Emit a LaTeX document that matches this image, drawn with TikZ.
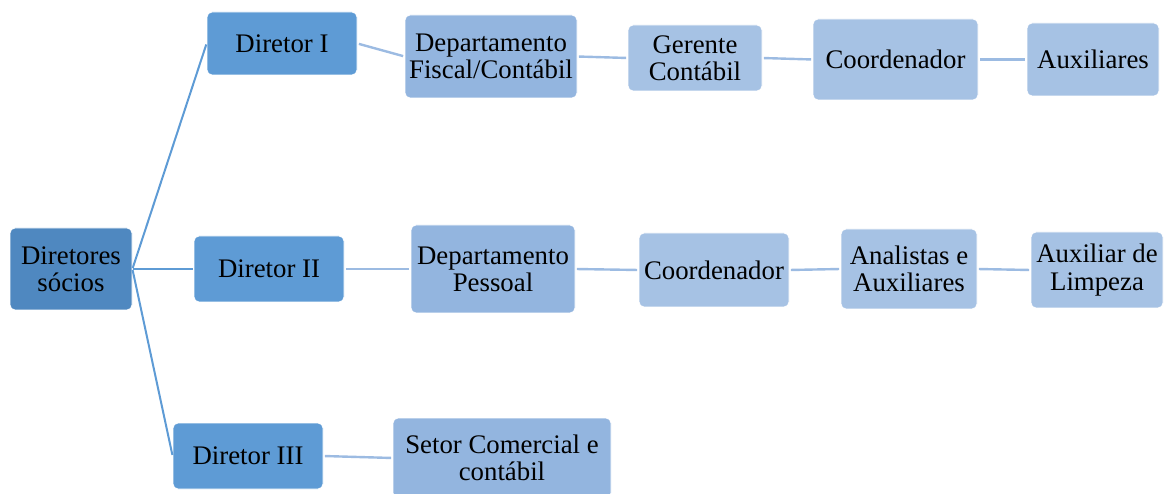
\documentclass[tikz,border=0pt]{standalone}
\usepackage{fontspec}
\setmainfont{Liberation Serif}
\definecolor{cTop}{HTML}{4F88C0}
\definecolor{cOne}{HTML}{5E9BD5}
\definecolor{cTwo}{HTML}{93B5DF}
\definecolor{cThree}{HTML}{A6C2E4}
\definecolor{cLineA}{HTML}{5E9BD5}
\definecolor{cLineB}{HTML}{9CBBE2}
\begin{document}
\begin{tikzpicture}[x=1pt,y=-1pt,
  box/.style={rectangle, rounded corners=5pt, draw=white, line width=0.8pt, align=center, inner sep=0pt,
     font=\fontsize{26.8}{27.2}\selectfont, text=black},
  topbox/.style={box, fill=cTop},
  onebox/.style={box, fill=cOne},
  twobox/.style={box, fill=cTwo},
  threebox/.style={box, fill=cThree},
  linkA/.style={draw=cLineA, line width=2pt, shorten <=1pt, shorten >=1pt},
  linkB/.style={draw=cLineB, line width=2.4pt, shorten <=1.5pt, shorten >=1.5pt}]
\useasboundingbox (0,0) rectangle (1168,494);
\begin{scope}
\clip (0,0) rectangle (1168,494);
\node[topbox, minimum width=122pt, minimum height=82pt] (soc) at (71,269) {Diretores\\sócios};
\node[onebox, minimum width=150pt, minimum height=63pt] (d1) at (282,43.5) {Diretor I};
\node[onebox, minimum width=150pt, minimum height=66pt] (d2) at (269,269) {Diretor II};
\node[onebox, minimum width=150pt, minimum height=66pt] (d3) at (248,456) {Diretor III};
\node[twobox, minimum width=172pt, minimum height=83pt] (fisc) at (491,56.5) {Departamento\\Fiscal/Contábil};
\node[threebox, minimum width=134pt, minimum height=66pt] (ger) at (695,58) {Gerente\\Contábil};
\node[threebox, minimum width=165pt, minimum height=81pt] (co1) at (895.5,59.5) {Coordenador};
\node[threebox, minimum width=132pt, minimum height=73pt] (aux1) at (1093,59.5) {Auxiliares};
\node[twobox, minimum width=164pt, minimum height=88pt] (pes) at (493,269) {Departamento\\Pessoal};
\node[threebox, minimum width=150pt, minimum height=74pt] (co2) at (714,270) {Coordenador};
\node[threebox, minimum width=136pt, minimum height=80pt] (ana) at (909,269) {Analistas e\\Auxiliares};
\node[threebox, minimum width=132pt, minimum height=76pt] (lim) at (1097,270) {Auxiliar de\\Limpeza};
\node[twobox, minimum width=218pt, minimum height=80pt] (set) at (502,458) {Setor Comercial e\\contábil};
\end{scope}
\draw[linkA] (soc.east) -- (d1.west);
\draw[linkA] (soc.east) -- (d2.west);
\draw[linkA] (soc.east) -- (d3.west);
\draw[linkB] (d1.east) -- (fisc.west);
\draw[linkB] (fisc.east) -- (ger.west);
\draw[linkB] (ger.east) -- (co1.west);
\draw[linkB] (co1.east) -- (aux1.west);
\draw[linkB] (d2.east) -- (pes.west);
\draw[linkB] (pes.east) -- (co2.west);
\draw[linkB] (co2.east) -- (ana.west);
\draw[linkB] (ana.east) -- (lim.west);
\draw[linkB] (d3.east) -- (set.west);
\end{tikzpicture}
\end{document}
